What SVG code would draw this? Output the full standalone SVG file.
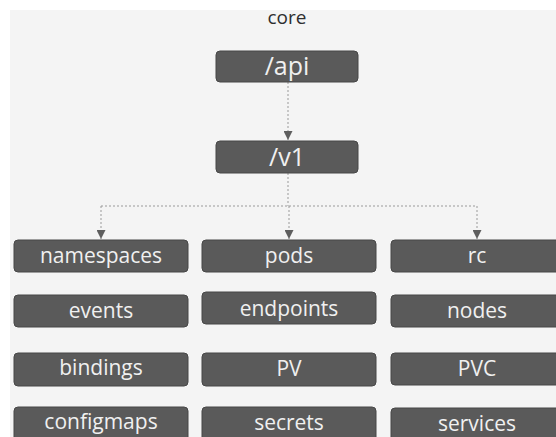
<svg xmlns="http://www.w3.org/2000/svg" width="556" height="437" viewBox="0 0 556 437">
<style>
.bg{fill:#f4f4f4}
.box{fill:#5a5a5a;stroke:#474747;stroke-width:1}
.t{font-family:"Open Sans","DejaVu Sans",sans-serif;font-size:21px;fill:#f0f0f0;text-anchor:middle}
.big{font-size:25px}
.title{font-family:"Open Sans","DejaVu Sans",sans-serif;font-size:19px;fill:#2e2e2e;text-anchor:middle}
.c{fill:none;stroke:#9a9a9a;stroke-width:1;stroke-dasharray:2 2}
</style>
<defs>
<marker id="arr" viewBox="0 0 10 10" refX="10" refY="5" markerWidth="9" markerHeight="9" markerUnits="userSpaceOnUse" orient="auto">
<path d="M0,0 L10,5 L0,10 z" fill="#5e5e5e"/>
</marker>
</defs>
<rect x="0" y="0" width="556" height="437" fill="#ffffff"/>
<rect class="bg" x="10" y="10" width="546" height="427"/>
<text class="title" x="287" y="24">core</text>
<g id="connectors">
<path class="c" d="M288,82 V140" marker-end="url(#arr)"/>
<path class="c" d="M288,173 V206"/>
<path class="c" d="M101,206 H477"/>
<path class="c" d="M101,206 V239" marker-end="url(#arr)"/>
<path class="c" d="M289,206 V239" marker-end="url(#arr)"/>
<path class="c" d="M477,206 V239" marker-end="url(#arr)"/>
</g>
<g id="api"><rect class="box" x="216" y="51" width="142" height="31" rx="4"/><text class="t big" x="287" y="75">/api</text></g>
<g id="v1"><rect class="box" x="216" y="141" width="142" height="32" rx="4"/><text class="t big" x="287" y="166">/v1</text></g>
<g id="namespaces"><rect class="box" x="14" y="240" width="174" height="32" rx="4"/><text class="t" x="101" y="263">namespaces</text></g>
<g id="events"><rect class="box" x="14" y="295" width="174" height="32" rx="4"/><text class="t" x="101" y="318">events</text></g>
<g id="bindings"><rect class="box" x="14" y="353" width="174" height="33" rx="4"/><text class="t" x="101" y="375">bindings</text></g>
<g id="configmaps"><rect class="box" x="14" y="407" width="174" height="34" rx="4"/><text class="t" x="101" y="429">configmaps</text></g>
<g id="pods"><rect class="box" x="202" y="240" width="174" height="32" rx="4"/><text class="t" x="289" y="263">pods</text></g>
<g id="endpoints"><rect class="box" x="202" y="292" width="174" height="32" rx="4"/><text class="t" x="289" y="316">endpoints</text></g>
<g id="PV"><rect class="box" x="202" y="353" width="174" height="33" rx="4"/><text class="t" x="289" y="376">PV</text></g>
<g id="secrets"><rect class="box" x="202" y="407" width="174" height="34" rx="4"/><text class="t" x="289" y="430">secrets</text></g>
<g id="rc"><rect class="box" x="391" y="240" width="174" height="32" rx="4"/><text class="t" x="477" y="263">rc</text></g>
<g id="nodes"><rect class="box" x="391" y="295" width="174" height="32" rx="4"/><text class="t" x="477" y="318">nodes</text></g>
<g id="PVC"><rect class="box" x="391" y="353" width="174" height="32" rx="4"/><text class="t" x="477" y="376">PVC</text></g>
<g id="services"><rect class="box" x="391" y="408" width="174" height="34" rx="4"/><text class="t" x="477" y="431">services</text></g>
</svg>
